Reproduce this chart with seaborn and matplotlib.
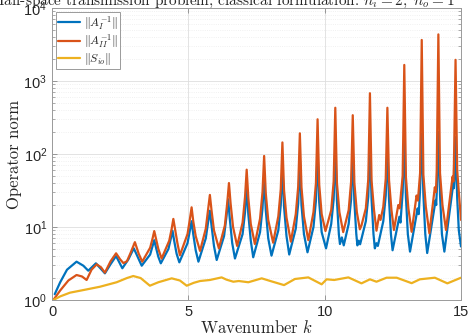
import pandas as pd
import matplotlib
matplotlib.use("Agg")
import matplotlib.pyplot as plt
import seaborn as sns

# values (wavenumber k, operator norm)
K_A1 = [0.10, 0.30, 0.55, 0.90, 1.15, 1.33, 1.61, 1.94, 2.15, 2.35, 2.58, 2.80, 3.00, 3.29,
        3.60, 3.69, 3.75, 3.81, 3.90, 3.99,
        4.27, 4.36, 4.42, 4.48, 4.57, 4.67,
        4.97, 5.06, 5.12, 5.18, 5.27, 5.37,
        5.64, 5.73, 5.79, 5.85, 5.94, 6.04,
        6.31, 6.40, 6.46, 6.52, 6.61, 6.71,
        6.99, 7.08, 7.14, 7.20, 7.29, 7.38,
        7.63, 7.72, 7.78, 7.84, 7.93, 8.05,
        8.30, 8.39, 8.45, 8.51, 8.60, 8.70,
        8.94, 9.03, 9.09, 9.15, 9.24, 9.37,
        9.59, 9.68, 9.74, 9.80, 9.89, 10.05,
        10.24, 10.33, 10.39, 10.45, 10.52, 10.56, 10.63, 10.70,
        10.88, 10.97, 11.03, 11.09, 11.16, 11.20, 11.25, 11.30,
        11.51, 11.60, 11.66, 11.72, 11.79, 11.84, 11.90, 11.95,
        12.15, 12.24, 12.30, 12.36, 12.43, 12.49, 12.74, 12.78,
        12.86, 12.92, 12.98, 13.05, 13.13, 13.41, 13.45,
        13.50, 13.56, 13.62, 13.69, 13.76, 14.07, 14.09,
        14.12, 14.17, 14.23, 14.30, 14.39, 14.72, 14.74,
        14.76, 14.80, 14.86, 14.92, 15.00]
NORM_A1 = [1.2, 1.75, 2.6, 3.35, 2.95, 2.52, 3.18, 2.32, 3.1, 4.0, 2.72, 3.6, 5.1, 2.95,
           4.2, 5.5, 6.6, 5.3, 3.9, 3.18,
           5.0, 7.0, 8.9, 6.5, 4.3, 3.28,
           6.0, 9.0, 12.0, 8.0, 4.8, 3.35,
           7.0, 12.0, 16.7, 10.5, 5.5, 3.53,
           7.5, 14.0, 24.0, 13.0, 6.0, 3.7,
           8.0, 16.0, 35.0, 15.0, 6.5, 3.85,
           8.5, 18.0, 49.0, 17.0, 7.0, 4.05,
           9.0, 20.0, 68.0, 19.0, 7.5, 4.2,
           9.5, 21.0, 85.0, 20.0, 8.0, 4.5,
           10.0, 23.0, 110.0, 22.0, 8.5, 5.1,
           11.0, 24.0, 120.0, 23.0, 8.0, 5.85, 7.2, 5.6,
           11.0, 24.0, 110.0, 22.0, 8.0, 5.6, 6.5, 5.8,
           12.0, 26.0, 140.0, 24.0, 8.0, 5.1, 6.0, 5.5,
           12.0, 27.0, 120.0, 24.0, 8.0, 4.8, 13.8, 11.5,
           30.0, 160.0, 26.0, 8.0, 4.6, 18.0, 15.0,
           33.0, 190.0, 28.0, 8.0, 4.4, 23.5, 20.0,
           36.0, 200.0, 28.0, 8.0, 4.6, 40.0, 34.0,
           45.0, 170.0, 25.0, 9.0, 5.4]

K_A2 = [0.05, 0.30, 0.60, 0.90, 1.10, 1.27, 1.45, 1.64, 1.80, 1.94, 2.15, 2.35, 2.50, 2.62,
        2.75, 2.88, 3.04, 3.18, 3.31,
        3.60, 3.69, 3.75, 3.81, 3.90, 4.02,
        4.30, 4.39, 4.45, 4.51, 4.60, 4.69,
        4.97, 5.06, 5.12, 5.18, 5.27, 5.43,
        5.64, 5.73, 5.79, 5.85, 5.94, 6.12,
        6.34, 6.43, 6.49, 6.55, 6.64, 6.79,
        6.99, 7.08, 7.14, 7.20, 7.29, 7.44,
        7.63, 7.72, 7.78, 7.84, 7.93, 8.11,
        8.30, 8.39, 8.45, 8.51, 8.60, 8.76,
        8.94, 9.03, 9.09, 9.15, 9.24, 9.40,
        9.59, 9.68, 9.74, 9.80, 9.89, 10.03,
        10.24, 10.33, 10.39, 10.45, 10.54, 10.68,
        10.88, 10.97, 11.03, 11.09, 11.18, 11.29, 11.35,
        11.51, 11.60, 11.66, 11.72, 11.81, 11.90, 12.00, 12.05,
        12.15, 12.24, 12.30, 12.36, 12.45, 12.54, 12.70, 12.75,
        12.86, 12.92, 12.98, 13.07, 13.19, 13.37, 13.42,
        13.50, 13.56, 13.62, 13.71, 13.84, 14.04, 14.08,
        14.11, 14.17, 14.23, 14.32, 14.45, 14.69, 14.72,
        14.74, 14.80, 14.86, 14.92, 15.00]
NORM_A2 = [1.0, 1.35, 1.85, 2.2, 2.1, 1.88, 2.6, 3.08, 2.8, 2.37, 3.4, 4.36, 3.6, 3.2,
           3.4, 4.4, 6.2, 4.3, 3.35,
           5.2, 7.0, 8.8, 7.0, 5.0, 3.7,
           6.5, 9.5, 12.9, 9.5, 6.0, 4.1,
           8.0, 13.0, 18.6, 12.0, 7.5, 4.7,
           9.5, 18.0, 27.5, 17.0, 9.0, 5.1,
           10.5, 22.0, 40.0, 21.0, 10.0, 5.5,
           11.5, 26.0, 61.0, 25.0, 11.0, 5.85,
           13.0, 30.0, 94.0, 29.0, 12.5, 6.1,
           14.0, 33.0, 144.0, 32.0, 13.5, 6.3,
           15.0, 36.0, 192.0, 35.0, 14.0, 6.6,
           16.0, 40.0, 299.0, 38.0, 15.0, 8.8,
           17.0, 42.0, 430.0, 40.0, 16.0, 8.5,
           17.0, 42.0, 340.0, 40.0, 16.0, 9.3, 10.5,
           18.0, 45.0, 680.0, 43.0, 17.0, 8.9, 14.6, 12.5,
           19.0, 46.0, 430.0, 44.0, 17.0, 9.1, 20.0, 18.0,
           50.0, 1660.0, 48.0, 18.0, 8.6, 27.0, 23.0,
           55.0, 3650.0, 52.0, 19.0, 8.2, 35.0, 30.0,
           60.0, 4350.0, 55.0, 20.0, 9.1, 49.0, 42.0,
           70.0, 1950.0, 60.0, 30.0, 12.5]

K_SIO = [0.05, 0.30, 0.66, 1.20, 1.76, 2.37, 2.75, 2.98, 3.25, 3.59, 3.90, 4.39, 4.69, 4.94,
         5.20, 5.43, 5.79, 6.22, 6.40, 6.65, 6.85, 7.20, 7.69, 8.05, 8.51, 8.91, 9.40,
         9.89, 10.07, 10.35, 10.87, 11.35, 11.66, 11.90, 12.27, 12.64, 13.19, 13.49,
         14.04, 14.50, 15.00]
NORM_SIO = [1.0, 1.12, 1.26, 1.38, 1.52, 1.75, 2.0, 2.13, 2.0, 1.57, 1.75, 1.98, 1.85, 1.57,
            1.72, 1.82, 1.88, 2.04, 1.9, 1.78, 1.82, 1.75, 1.98, 1.8, 1.6, 1.94, 2.04,
            1.64, 1.92, 1.88, 2.04, 1.69, 1.92, 1.78, 2.02, 2.02, 1.7, 1.92,
            2.02, 1.69, 2.02]

SERIES = [r"$\Vert A_I^{-1}\Vert$", r"$\Vert A_{II}^{-1}\Vert$", r"$\Vert S_{io}\Vert$"]
COLORS = ["#0072BD", "#D95319", "#EDB120"]
TITLE = r"Half-space transmission problem, classical formulation: $n_i = 2,\ n_o = 1$"


#-----------------------------------------------------------------
# Function Name : BuildFrame
# Description   : long table (k, norm, series) for seaborn
#------------------------------------------------------------------
def BuildFrame():
    parts = []
    for name, k, v in zip(SERIES, [K_A1, K_A2, K_SIO], [NORM_A1, NORM_A2, NORM_SIO]):
        parts.append(pd.DataFrame({"k": k, "norm": v, "series": name}))
    return pd.concat(parts, ignore_index=True)


#-----------------------------------------------------------------
# Function Name : DrawChart
# Description   : draws the three operator norms on a log axis
#------------------------------------------------------------------
def DrawChart(df):
    sns.set_style("whitegrid")
    plt.rcParams['font.family'] = ['Liberation Sans', 'DejaVu Sans']
    plt.rcParams['mathtext.fontset'] = 'cm'

    fig = plt.figure(figsize=(4.69, 3.36), dpi=100)
    ax = fig.add_axes([52 / 469, 36 / 336, 409 / 469, 292 / 336])

    sns.lineplot(data=df, x="k", y="norm", hue="series", hue_order=SERIES,
                 palette=COLORS, linewidth=1.6, estimator=None, sort=False, ax=ax)

    ax.set_yscale("log")
    ax.set_xlim(0, 15)
    ax.set_ylim(1, 1e4)
    ax.set_xticks([0, 5, 10, 15])

    ax.grid(True, which="major", color="#dedede", linewidth=0.6)
    ax.grid(True, which="minor", axis="y", color="#ececec", linestyle=":", linewidth=0.6)
    ax.set_axisbelow(True)

    ax.tick_params(which="both", direction="in", top=True, right=True, bottom=True,
                   left=True, color="#8a8a8a", labelcolor="#262626", labelsize=10.5)
    ax.tick_params(which="major", length=3.5, width=0.6)
    ax.tick_params(which="minor", length=2, width=0.5)
    for sp in ax.spines.values():
        sp.set_color("#9a9a9a")
        sp.set_linewidth(0.7)

    ax.set_xlabel(r"Wavenumber $k$", fontfamily="cmr10", fontsize=12, labelpad=0)
    ax.set_ylabel("Operator norm", fontfamily="cmr10", fontsize=12, labelpad=1)

    handles, labels = ax.get_legend_handles_labels()
    leg = ax.legend(handles, labels, loc="upper left", frameon=True, fancybox=False,
                    edgecolor="#9a9a9a", framealpha=1, fontsize=8.5, handlelength=1.9,
                    handletextpad=0.3, labelspacing=0.05, borderpad=0.2,
                    borderaxespad=0.3)
    leg.get_frame().set_linewidth(0.7)

    fig.text(-8 / 469, 1 - 5 / 336, TITLE, ha="left", va="baseline",
             fontfamily="cmr10", fontsize=11)

    fig.savefig("out.png", dpi=100)


def main():
    df = BuildFrame()
    DrawChart(df)


if __name__ == "__main__":
    main()
